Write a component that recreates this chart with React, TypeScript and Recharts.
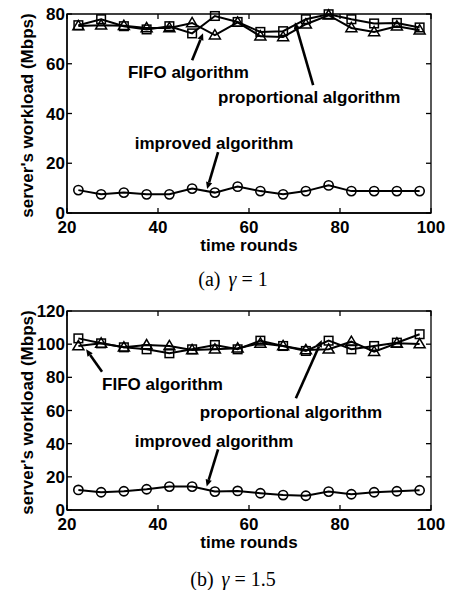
import React from "react";
import { LineChart, Line, XAxis, YAxis, ReferenceLine, ReferenceDot, ReferenceArea } from "recharts";

// time rounds (x) shared by every series
const rounds = [22.5, 27.5, 32.5, 37.5, 42.5, 47.5, 52.5, 57.5, 62.5, 67.5, 72.5, 77.5, 82.5, 87.5, 92.5, 97.5];

// (a) gamma = 1
const improvedA = [9.2, 7.5, 8.2, 7.5, 7.5, 9.8, 8.2, 10.6, 8.8, 7.5, 8.8, 11.1, 8.8, 8.8, 8.8, 8.8];
const proportionalA = [75.5, 77.9, 75.1, 73.8, 75.1, 72.2, 79.2, 76.8, 72.8, 73.1, 77.9, 79.9, 77.9, 76.2, 76.4, 74.6];
const fifoA = [75.2, 75.5, 75.3, 74.4, 74.4, 76.4, 71.5, 76.6, 71.1, 70.8, 75.9, 79.5, 74.4, 72.8, 75.1, 73.5];

// (b) gamma = 1.5
const improvedB = [12.1, 10.7, 11.3, 12.5, 14.1, 14.1, 11.1, 11.5, 10.1, 9.0, 8.6, 11.1, 9.5, 10.7, 11.3, 11.9];
const proportionalB = [103.5, 100.5, 98.1, 96.9, 94.5, 96.9, 99.5, 96.9, 102.1, 98.9, 95.9, 102.1, 96.9, 98.9, 100.9, 106];
const fifoB = [98.9, 100.5, 98.1, 99.5, 98.9, 96.5, 96.9, 97.5, 100.5, 98.9, 96.5, 96.9, 101.5, 95.5, 100.5, 100.1];

const xTicks = [20, 40, 60, 80, 100];
const yTicksA = [0, 20, 40, 60, 80];
const yTicksB = [0, 20, 40, 60, 80, 100, 120];

// annotation text anchors and arrows, in data units
const notesA = [
  { text: "FIFO algorithm", x: 33.4, y: 56.6 },
  { text: "proportional algorithm", x: 53.2, y: 46.6 },
  { text: "improved algorithm", x: 34.9, y: 28.1 },
];
const arrowsA = [
  { from: [47.5, 61.4], to: [49.9, 72.3] },
  { from: [74.1, 51.4], to: [70.1, 76.7] },
  { from: [53.2, 24.5], to: [50.8, 9.6] },
];
const notesB = [
  { text: "FIFO algorithm", x: 27.7, y: 75.4 },
  { text: "proportional algorithm", x: 49.2, y: 58.5 },
  { text: "improved algorithm", x: 34.9, y: 41.2 },
];
const arrowsB = [
  { from: [27.7, 83.4], to: [24.2, 96.9] },
  { from: [70.3, 67.4], to: [76.0, 102.5] },
  { from: [53.2, 36.6], to: [50.7, 14.1] },
];

const FONT = "'Liberation Sans', Arial, Helvetica, sans-serif";
const tickStyle = { fill: "#000", fontSize: 17, fontWeight: 700, fontFamily: FONT };

// chart box (plot area = margins + axis sizes below)
const W = 456;
const H = 260;
const M = { top: 14, right: 25, bottom: 7, left: 0 };
const Y_AXIS_W = 67;
const X_AXIS_H = 40;

const CircleDot = (p: any) =>
  p.cx == null ? null : (
    <circle key={p.index} cx={p.cx} cy={p.cy} r={4.6} fill="none" stroke="#000" strokeWidth={1.6} />
  );
const SquareDot = (p: any) =>
  p.cx == null ? null : (
    <rect key={p.index} x={p.cx - 4.3} y={p.cy - 4.3} width={8.6} height={8.6} fill="none" stroke="#000" strokeWidth={1.5} />
  );
const TriDot = (p: any) =>
  p.cx == null ? null : (
    <polygon
      key={p.index}
      points={`${p.cx},${p.cy - 5.5} ${p.cx - 5.5},${p.cy + 3.8} ${p.cx + 5.5},${p.cy + 3.8}`}
      fill="none"
      stroke="#000"
      strokeWidth={1.5}
    />
  );

const Arrow = (p: any) => {
  const { x1, y1, x2, y2 } = p;
  if (x1 == null) return null;
  const a = Math.atan2(y2 - y1, x2 - x1);
  const L = 7, w = 3.2;
  const bx = x2 - L * Math.cos(a);
  const by = y2 - L * Math.sin(a);
  const pts = `${x2},${y2} ${bx + w * Math.sin(a)},${by - w * Math.cos(a)} ${bx - w * Math.sin(a)},${by + w * Math.cos(a)}`;
  return (
    <g>
      <line x1={x1} y1={y1} x2={bx} y2={by} stroke="#000" strokeWidth={2.6} />
      <polygon points={pts} fill="#000" />
    </g>
  );
};

// inward tick hanging down from the top edge
const TopTick = (p: any) =>
  p.x1 == null ? null : (
    <g>
      <line x1={p.x1} y1={p.y1} x2={p.x1} y2={p.y1 + 5} stroke="#000" strokeWidth={1.3} />
    </g>
  );
// inward tick pointing left from the right edge
const RightTick = (p: any) =>
  p.x1 == null ? null : (
    <g>
      <line x1={p.x1 - 5} y1={p.y1} x2={p.x1} y2={p.y1} stroke="#000" strokeWidth={1.3} />
    </g>
  );

const YTitle = ({ viewBox }: any) => {
  const x = viewBox.x + 27;
  const y = viewBox.y + viewBox.height / 2 + 2;
  return (
    <text
      x={x}
      y={y}
      transform={`rotate(-90 ${x} ${y})`}
      textAnchor="middle"
      dominantBaseline="central"
      fontSize={17}
      fontWeight={700}
      fontFamily={FONT}
      fill="#000"
    >
      server's workload (Mbps)
    </text>
  );
};

function Panel({
  improved,
  proportional,
  fifo,
  yMax,
  yTicks,
  notes,
  arrows,
}: {
  improved: number[];
  proportional: number[];
  fifo: number[];
  yMax: number;
  yTicks: number[];
  notes: { text: string; x: number; y: number }[];
  arrows: { from: number[]; to: number[] }[];
}) {
  const data = rounds.map((r, i) => ({
    round: r,
    improved: improved[i],
    proportional: proportional[i],
    fifo: fifo[i],
  }));
  const xMin = xTicks[0];
  const xMax = xTicks[xTicks.length - 1];
  return (
    <div style={{ position: "relative", width: W, height: H }}>
      <LineChart width={W} height={H} data={data} margin={M}>
        <XAxis
          dataKey="round"
          type="number"
          domain={[xMin, xMax]}
          ticks={xTicks}
          tickSize={-5}
          tickMargin={13}
          height={X_AXIS_H}
          tick={tickStyle}
          stroke="#000"
          strokeWidth={1.3}
          label={{ value: "time rounds", position: "insideBottom", offset: 2, fill: "#000", fontSize: 17, fontWeight: 700, fontFamily: FONT }}
        />
        <YAxis
          type="number"
          domain={[0, yMax]}
          ticks={yTicks}
          tickSize={-5}
          tickMargin={7}
          width={Y_AXIS_W}
          tick={tickStyle}
          stroke="#000"
          strokeWidth={1.3}
          label={<YTitle />}
        />
        {/* axes box around the plot area */}
        <ReferenceArea
          x1={xMin}
          x2={xMax}
          y1={0}
          y2={yMax}
          fill="none"
          fillOpacity={0}
          stroke="#000"
          strokeWidth={1.3}
          ifOverflow="visible"
        />
        <Line dataKey="improved" stroke="#000" strokeWidth={2} dot={CircleDot} isAnimationActive={false} />
        <Line dataKey="fifo" stroke="#000" strokeWidth={2} dot={TriDot} isAnimationActive={false} />
        <Line dataKey="proportional" stroke="#000" strokeWidth={2} dot={SquareDot} isAnimationActive={false} />
        {xTicks.map((t) => (
          <ReferenceLine
            key={"tx" + t}
            segment={[
              { x: t, y: yMax },
              { x: t, y: yMax * 0.9 },
            ]}
            shape={TopTick}
            ifOverflow="visible"
          />
        ))}
        {yTicks.map((t) => (
          <ReferenceLine
            key={"ty" + t}
            segment={[
              { x: xMax, y: t },
              { x: xMin, y: t },
            ]}
            shape={RightTick}
            ifOverflow="visible"
          />
        ))}
        {arrows.map((a, i) => (
          <ReferenceLine
            key={"a" + i}
            segment={[
              { x: a.from[0], y: a.from[1] },
              { x: a.to[0], y: a.to[1] },
            ]}
            shape={Arrow}
            ifOverflow="visible"
          />
        ))}
        {notes.map((n, i) => (
          <ReferenceDot
            key={"n" + i}
            x={n.x}
            y={n.y}
            r={0}
            ifOverflow="visible"
            shape={(p: any) => (
              <text
                x={p.cx}
                y={p.cy}
                textAnchor="start"
                dominantBaseline="central"
                fontSize={17}
                fontWeight={700}
                fontFamily={FONT}
                fill="#000"
              >
                {n.text}
              </text>
            )}
          />
        ))}
      </LineChart>
    </div>
  );
}

const captionStyle: React.CSSProperties = {
  position: "absolute",
  left: 0,
  width: 466,
  textAlign: "center",
  fontFamily: "'Liberation Serif', 'Times New Roman', serif",
  fontSize: 20,
  lineHeight: "20px",
  color: "#000",
  whiteSpace: "nowrap",
};
const gap = (w: number) => <span style={{ display: "inline-block", width: w }} />;

export default function App() {
  return (
    <div style={{ position: "absolute", left: 0, top: 0, width: 456, height: 590, background: "#fff", overflow: "hidden" }}>
      <div style={{ position: "absolute", left: 0, top: 0 }}>
        <Panel
          improved={improvedA}
          proportional={proportionalA}
          fifo={fifoA}
          yMax={80}
          yTicks={yTicksA}
          notes={notesA}
          arrows={arrowsA}
        />
      </div>
      <div style={{ ...captionStyle, top: 269 }}>
        (a){gap(8)}<i>γ</i>{gap(5)}={gap(5)}1
      </div>
      <div style={{ position: "absolute", left: 0, top: 297 }}>
        <Panel
          improved={improvedB}
          proportional={proportionalB}
          fifo={fifoB}
          yMax={120}
          yTicks={yTicksB}
          notes={notesB}
          arrows={arrowsB}
        />
      </div>
      <div style={{ ...captionStyle, top: 569 }}>
        (b){gap(8)}<i>γ</i>{gap(5)}={gap(5)}1.5
      </div>
    </div>
  );
}
